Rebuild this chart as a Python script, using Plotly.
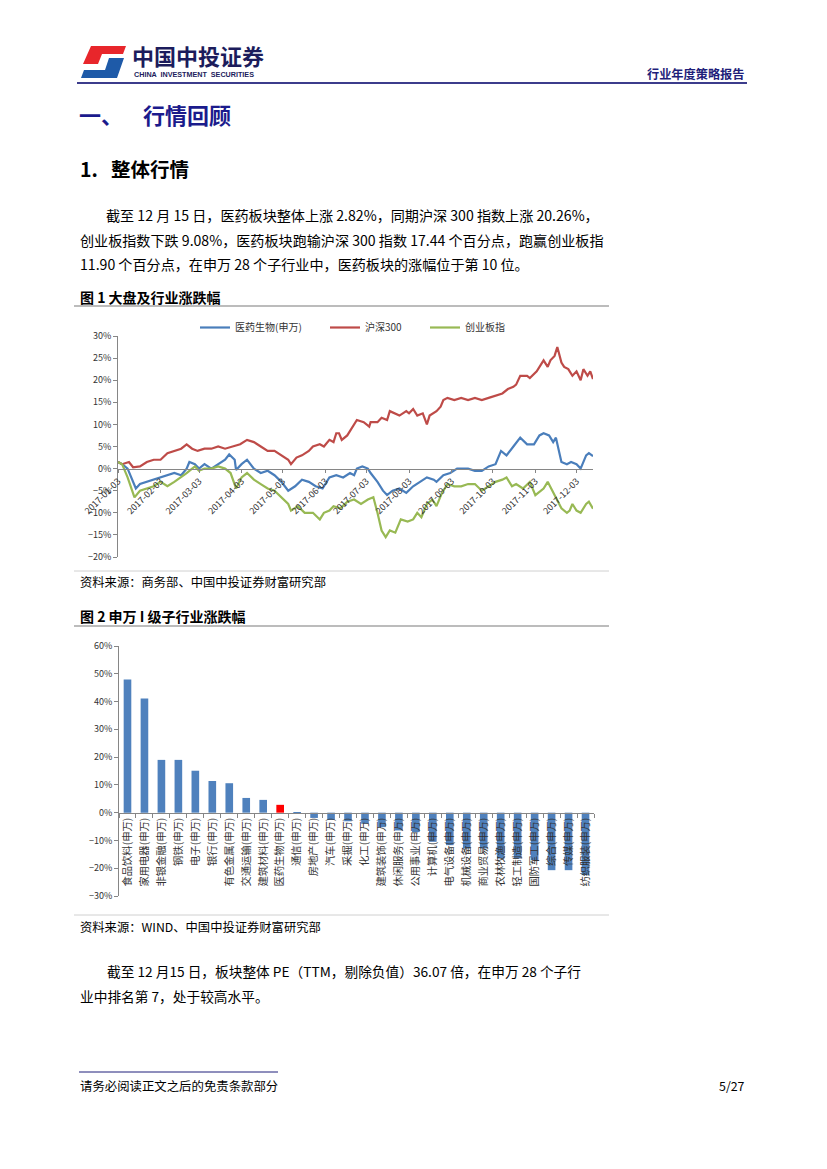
import plotly.graph_objects as go

W, H = 827, 1169
FONT = "Noto Sans CJK SC, Noto Sans, sans-serif"

# ---------------- data: chart 1 (line chart) ----------------
med_dates = ["2017-01-03","2017-01-06","2017-01-10","2017-01-16","2017-01-19","2017-01-24","2017-01-29",
             "2017-02-03","2017-02-08","2017-02-13","2017-02-18","2017-02-22","2017-02-24","2017-02-28",
             "2017-03-03","2017-03-07","2017-03-12","2017-03-17","2017-03-22","2017-03-25","2017-03-29","2017-03-30",
             "2017-04-03","2017-04-07","2017-04-12","2017-04-17","2017-04-22","2017-04-27",
             "2017-05-02","2017-05-07","2017-05-12","2017-05-17","2017-05-22","2017-05-27",
             "2017-06-01","2017-06-06","2017-06-11","2017-06-16","2017-06-21","2017-06-24","2017-06-26","2017-06-30",
             "2017-07-04","2017-07-06","2017-07-11","2017-07-15","2017-07-18","2017-07-22","2017-07-27",
             "2017-08-01","2017-08-06","2017-08-11","2017-08-16","2017-08-21","2017-08-23","2017-08-28",
             "2017-09-02","2017-09-07","2017-09-15","2017-09-20","2017-09-25","2017-09-30",
             "2017-10-05","2017-10-09","2017-10-13","2017-10-18","2017-10-23","2017-10-28",
             "2017-11-02","2017-11-06","2017-11-09","2017-11-13","2017-11-16","2017-11-18","2017-11-22","2017-11-26","2017-11-29",
             "2017-12-03","2017-12-06","2017-12-10","2017-12-12","2017-12-15"]
med_vals = [1.5,1.0,0.0,-4.5,-3.5,-3.0,-2.5,
            -2.0,-1.5,-1.0,-1.5,0.0,1.5,1.0,
            0.0,1.0,0.0,1.0,2.0,3.2,2.0,-0.3,
            1.0,2.0,0.0,-1.0,-0.5,-1.5,
            -3.0,-5.0,-4.0,-2.5,-3.0,-4.0,
            -4.5,-2.0,-1.5,-2.0,-1.0,-1.5,0.0,0.5,
            0.0,-1.0,-3.0,-5.0,-6.0,-5.0,-4.5,
            -5.5,-4.0,-3.0,-2.0,-2.5,-3.0,-1.5,
            -1.0,0.0,0.0,-0.5,-0.5,0.5,
            1.0,4.0,3.0,5.0,7.0,5.5,
            5.5,7.5,8.0,7.5,6.0,7.0,1.5,1.0,1.5,
            1.0,0.0,3.0,3.5,2.82]

hs_dates = ["2017-01-03","2017-01-06","2017-01-11","2017-01-14","2017-01-19","2017-01-24","2017-01-29",
            "2017-02-03","2017-02-08","2017-02-13","2017-02-18","2017-02-22","2017-02-26",
            "2017-03-02","2017-03-07","2017-03-12","2017-03-17","2017-03-22","2017-03-27",
            "2017-04-02","2017-04-07","2017-04-12","2017-04-17","2017-04-22","2017-04-27",
            "2017-05-02","2017-05-07","2017-05-09","2017-05-13","2017-05-17","2017-05-22","2017-05-25","2017-05-30",
            "2017-06-02","2017-06-06","2017-06-09","2017-06-11","2017-06-13","2017-06-15","2017-06-19","2017-06-24","2017-06-26",
            "2017-07-01","2017-07-05","2017-07-06","2017-07-11","2017-07-14","2017-07-18","2017-07-20","2017-07-24","2017-07-27",
            "2017-08-01","2017-08-03","2017-08-06","2017-08-09","2017-08-13","2017-08-16","2017-08-18","2017-08-23","2017-08-26","2017-08-28","2017-08-31",
            "2017-09-05","2017-09-10","2017-09-15","2017-09-20","2017-09-25","2017-09-30",
            "2017-10-05","2017-10-10","2017-10-14","2017-10-18","2017-10-20","2017-10-23","2017-10-28","2017-10-30",
            "2017-11-04","2017-11-09","2017-11-12","2017-11-14","2017-11-17","2017-11-19","2017-11-22","2017-11-24","2017-11-27","2017-11-30",
            "2017-12-03","2017-12-06","2017-12-08","2017-12-11","2017-12-13","2017-12-15"]
hs_vals = [1.5,1.0,1.5,0.3,0.5,1.5,2.0,
           2.0,3.5,4.0,4.5,5.5,4.5,
           4.0,4.5,4.5,5.0,4.5,5.0,
           5.5,6.5,6.0,5.0,4.0,4.0,
           3.0,2.0,1.0,2.5,3.0,4.0,5.0,5.5,
           5.0,6.5,6.0,8.0,8.0,6.5,7.5,10.0,11.0,
           10.5,9.5,10.5,10.5,11.5,11.0,13.0,12.5,12.0,
           13.0,12.5,13.5,12.0,12.5,10.0,12.0,13.0,14.0,15.5,16.0,
           15.5,16.0,15.5,16.0,15.5,16.0,
           16.5,17.0,18.0,18.5,19.0,21.0,21.0,20.5,
           22.0,24.5,23.0,24.5,25.5,27.5,24.0,23.0,22.5,21.0,
           22.0,20.0,22.5,21.0,22.0,20.26]

cy_dates = ["2017-01-03","2017-01-06","2017-01-10","2017-01-15","2017-01-19","2017-01-24","2017-01-29",
            "2017-02-03","2017-02-08","2017-02-13","2017-02-18","2017-02-22","2017-02-26","2017-02-28",
            "2017-03-03","2017-03-07","2017-03-12","2017-03-17","2017-03-22","2017-03-26","2017-03-30",
            "2017-04-03","2017-04-07","2017-04-12","2017-04-17","2017-04-22","2017-04-27",
            "2017-05-02","2017-05-07","2017-05-09","2017-05-14","2017-05-19","2017-05-25","2017-05-30",
            "2017-06-02","2017-06-06","2017-06-09","2017-06-14","2017-06-19","2017-06-24","2017-06-29",
            "2017-07-04","2017-07-08","2017-07-11","2017-07-14","2017-07-17","2017-07-20","2017-07-24","2017-07-28",
            "2017-08-02","2017-08-06","2017-08-09","2017-08-12","2017-08-16","2017-08-20","2017-08-23","2017-08-27","2017-08-31",
            "2017-09-05","2017-09-10","2017-09-15","2017-09-20","2017-09-25","2017-09-30",
            "2017-10-05","2017-10-10","2017-10-13","2017-10-17","2017-10-20","2017-10-25","2017-10-30",
            "2017-11-03","2017-11-07","2017-11-09","2017-11-12","2017-11-16","2017-11-19","2017-11-22","2017-11-26","2017-11-28","2017-11-30",
            "2017-12-03","2017-12-06","2017-12-10","2017-12-12","2017-12-15"]
cy_vals = [1.5,1.0,-2.0,-6.5,-5.0,-4.5,-4.0,
           -3.0,-4.0,-3.0,-2.0,-1.0,0.0,0.5,
           -0.5,0.0,0.0,0.5,0.0,-1.0,-4.5,
           -2.0,-1.0,-2.5,-3.5,-4.5,-5.0,
           -6.5,-8.0,-9.5,-8.5,-10.0,-10.0,-11.5,
           -10.0,-9.5,-8.5,-9.0,-7.5,-7.0,-8.0,
           -7.0,-6.5,-10.0,-14.0,-15.5,-14.0,-14.5,-11.5,
           -12.0,-11.5,-10.0,-11.0,-8.0,-7.0,-8.5,-5.5,-3.5,
           -4.0,-4.0,-3.5,-3.5,-5.0,-4.0,
           -3.0,-2.5,-2.0,-4.0,-3.5,-4.5,-3.0,
           -6.0,-5.0,-4.5,-3.0,-5.5,-7.0,-9.0,-10.0,-9.5,-8.0,
           -9.5,-10.0,-8.0,-7.5,-9.08]

series_names = ["医药生物(申万)", "沪深300", "创业板指"]
series_colors = ["#4A7EBB", "#BE4B48", "#98B954"]
date_ticks = ["2017-01-03","2017-02-03","2017-03-03","2017-04-03","2017-05-03","2017-06-03",
              "2017-07-03","2017-08-03","2017-09-03","2017-10-03","2017-11-03","2017-12-03"]

# ---------------- data: chart 2 (bar chart) ----------------
industries = ["食品饮料(申万)","家用电器(申万)","非银金融(申万)","钢铁(申万)","电子(申万)","银行(申万)",
              "有色金属(申万)","交通运输(申万)","建筑材料(申万)","医药生物(申万)","通信(申万)","房地产(申万)",
              "汽车(申万)","采掘(申万)","化工(申万)","建筑装饰(申万)","休闲服务(申万)","公用事业(申万)",
              "计算机(申万)","电气设备(申万)","机械设备(申万)","商业贸易(申万)","农林牧渔(申万)","轻工制造(申万)",
              "国防军工(申万)","综合(申万)","传媒(申万)","纺织服装(申万)"]
changes = [47.9, 41.1, 19.0, 19.0, 15.1, 11.4, 10.6, 5.3, 4.6, 2.82, -0.4, -1.9,
           -2.6, -3.1, -4.0, -5.2, -6.4, -7.0, -10.5, -11.7, -12.9, -12.9, -16.5, -16.5,
           -17.1, -20.7, -20.7, -22.5]
highlight = "医药生物(申万)"

# ---------------- helpers for page layout ----------------
# the page is shown with the browser's default 8px body margin, so shift back by it
OX, OY = 9, 8

def fx(x):
    return (x - OX) / W

def fy(y):
    return 1 - (y - OY) / H

fig = go.Figure()

legend_ids = ["legend", "legend2", "legend3"]
for dates, vals, name, color, lg in zip([med_dates, hs_dates, cy_dates], [med_vals, hs_vals, cy_vals],
                                        series_names, series_colors, legend_ids):
    fig.add_trace(go.Scatter(x=dates, y=vals, mode="lines", name=name, legend=lg,
                             line=dict(color=color, width=2.2), xaxis="x", yaxis="y"))

bar_colors = ["#FF0000" if c == highlight else "#4F81BD" for c in industries]
fig.add_trace(go.Bar(x=industries, y=changes, marker=dict(color=bar_colors, line=dict(width=0)),
                     xaxis="x2", yaxis="y2", showlegend=False))

# chart domains
c1_y0, c1_y1 = fy(557), fy(336)
c2_y0, c2_y1 = fy(896), fy(646)
c1_ymin, c1_ymax = -20, 30
c2_ymin, c2_ymax = -30, 60

axis_gray = "#868686"
tick_font = dict(family=FONT, size=9, color="#333333")
legend_font = dict(family=FONT, size=10, color="#333333")

def legend_at(x):
    return dict(orientation="h", x=fx(x), y=fy(313), xanchor="left", yanchor="top",
                font=legend_font, bgcolor="rgba(0,0,0,0)", itemwidth=30)

fig.update_layout(
    width=W, height=H,
    margin=dict(l=0, r=0, t=0, b=0, autoexpand=False),
    paper_bgcolor="white", plot_bgcolor="rgba(0,0,0,0)",
    font=dict(family=FONT, color="#000000"),
    bargap=0.55,
    xaxis=dict(domain=[fx(119), fx(594)], type="date", automargin=False,
               range=["2017-01-03", "2017-12-15"],
               anchor="free", position=c1_y0 + (0 - c1_ymin) / (c1_ymax - c1_ymin) * (c1_y1 - c1_y0),
               tickmode="array", tickvals=date_ticks, ticktext=date_ticks, tickangle=-45,
               showline=True, linecolor=axis_gray, linewidth=1, showgrid=False, zeroline=False,
               ticks="outside", ticklen=3, tickcolor=axis_gray, tickfont=tick_font),
    yaxis=dict(domain=[c1_y0, c1_y1], anchor="x", range=[c1_ymin, c1_ymax], dtick=5, automargin=False,
               ticksuffix="%", showline=True, linecolor=axis_gray, linewidth=1, showgrid=False,
               zeroline=False, ticks="outside", ticklen=4, tickcolor=axis_gray, tickfont=tick_font),
    xaxis2=dict(domain=[fx(120), fx(595)], type="category", automargin=False,
                anchor="free", position=c2_y0 + (0 - c2_ymin) / (c2_ymax - c2_ymin) * (c2_y1 - c2_y0),
                tickangle=-90, showline=True, linecolor=axis_gray, linewidth=1, showgrid=False,
                zeroline=False, ticks="outside", tickson="boundaries", ticklen=4, tickcolor=axis_gray,
                tickfont=dict(family=FONT, size=10.3, color="#333333")),
    yaxis2=dict(domain=[c2_y0, c2_y1], anchor="x2", range=[c2_ymin, c2_ymax], dtick=10, automargin=False,
                ticksuffix="%", showline=True, linecolor=axis_gray, linewidth=1, showgrid=False,
                zeroline=False, ticks="outside", ticklen=4, tickcolor=axis_gray, tickfont=tick_font),
    legend=legend_at(196),
    legend2=legend_at(326),
    legend3=legend_at(426),
    showlegend=True,
)

shapes = []
annotations = []

def text(x, y, s, size, color="#000000", bold=False, anchor="left", family=FONT):
    if bold:
        s = "<b>" + s + "</b>"
    annotations.append(dict(x=fx(x), y=fy(y), xref="paper", yref="paper", text=s, showarrow=False,
                            xanchor=anchor, yanchor="middle",
                            font=dict(family=family, size=size, color=color)))

def hline(x0, x1, y, color, width):
    shapes.append(dict(type="line", xref="paper", yref="paper", x0=fx(x0), x1=fx(x1), y0=fy(y), y1=fy(y),
                       line=dict(color=color, width=width)))

def poly(points, color):
    path = "M " + " L ".join(f"{fx(px)},{fy(py)}" for px, py in points) + " Z"
    shapes.append(dict(type="path", xref="paper", yref="paper", path=path, fillcolor=color,
                       line=dict(width=0)))

# logo
poly([(92, 46), (127, 46), (124, 54), (103, 54), (99, 64), (84, 64)], "#E8262B")
poly([(110, 58), (125, 58), (118, 78), (82, 78), (85, 70), (106, 70)], "#1E5AA8")
text(131, 54.5, "中国中投证券", 22, "#1C1C5C", bold=True)
text(133, 75, "CHINA  INVESTMENT  SECURITIES", 7.2, "#1C1C5C", bold=True, family="Liberation Sans, Arial")
text(748, 74, "行业年度策略报告", 12.2, "#1F1F7A", bold=True, anchor="right")
hline(78, 748, 83, "#3C3C8C", 2)

# headings
text(78, 114, "一、&nbsp;&nbsp;&nbsp;&nbsp;行情回顾", 22, "#1B1B8C", bold=True)
text(79, 168, "1.&nbsp;&nbsp;&nbsp;整体行情", 19.5, "#000000", bold=True)

# paragraph 1
text(105, 215, "截至 12 月 15 日，医药板块整体上涨 2.82%，同期沪深 300 指数上涨 20.26%，", 14.1)
text(79, 240, "创业板指数下跌 9.08%，医药板块跑输沪深 300 指数 17.44 个百分点，跑赢创业板指", 14.1)
text(79, 264, "11.90 个百分点，在申万 28 个子行业中，医药板块的涨幅位于第 10 位。", 14.1)

# figure 1 frame
text(79, 297, "图 1 大盘及行业涨跌幅", 14, "#000000", bold=True)
hline(75, 610, 306, "#A6A6A6", 1.5)
hline(75, 610, 571, "#D0D0D0", 1)
text(79, 582, "资料来源：商务部、中国中投证券财富研究部", 12.3, "#000000")

# figure 2 frame
text(79, 616, "图 2 申万 I 级子行业涨跌幅", 14, "#000000", bold=True)
hline(75, 610, 626, "#A6A6A6", 1.5)
hline(75, 610, 915, "#D0D0D0", 1)
text(79, 927, "资料来源：WIND、中国中投证券财富研究部", 12.3, "#000000")

# paragraph 2
text(106, 971, "截至 12 月15 日，板块整体 PE（TTM，剔除负值）36.07 倍，在申万 28 个子行", 13.7)
text(79, 996, "业中排名第 7，处于较高水平。", 13.7)

# footer
hline(80, 279, 1072, "#1F1F7A", 1)
text(79, 1086, "请务必阅读正文之后的免责条款部分", 12.4, "#000000")
text(748, 1086, "5/27", 12.4, "#000000", anchor="right")

fig.update_layout(shapes=shapes, annotations=annotations)
fig.write_html("out.html")
